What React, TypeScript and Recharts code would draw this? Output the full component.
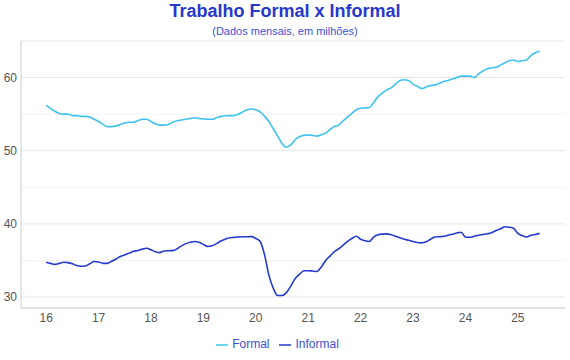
import React from "react";
import {
  LineChart,
  Line,
  XAxis,
  YAxis,
  CartesianGrid,
  ReferenceLine,
  Legend,
} from "recharts";

// monthly, Jan 2016 .. Jun 2025 (millions)
const formal = [
  56.2, 55.8, 55.4, 55.1, 55.0, 55.0, 54.8, 54.8, 54.7, 54.7, 54.6, 54.3,
  54.0, 53.6, 53.3, 53.3, 53.4, 53.6, 53.8, 53.9, 53.9, 54.1, 54.3, 54.3,
  54.0, 53.7, 53.5, 53.5, 53.6, 53.9, 54.1, 54.2, 54.3, 54.4, 54.5, 54.4,
  54.35, 54.3, 54.3, 54.5, 54.7, 54.75, 54.8, 54.8, 55.0, 55.3, 55.6, 55.7,
  55.6, 55.3, 54.7, 54.0, 53.0, 52.0, 51.0, 50.5, 50.8, 51.5, 51.9, 52.1,
  52.15, 52.1, 52.0, 52.2, 52.4, 52.9, 53.3, 53.5, 54.1, 54.6, 55.1, 55.6,
  55.8, 55.85, 55.9, 56.6, 57.4, 57.9, 58.3, 58.6, 59.1, 59.6, 59.7, 59.6,
  59.1, 58.8, 58.5, 58.7, 58.9, 59.0, 59.2, 59.45, 59.6, 59.8, 60.0, 60.2,
  60.2, 60.2, 60.0, 60.5, 60.9, 61.2, 61.35, 61.4, 61.7, 62.0, 62.3, 62.4,
  62.2, 62.3, 62.4, 63.0, 63.4, 63.6,
];

const informal = [
  34.75, 34.6, 34.47, 34.6, 34.75, 34.7, 34.55, 34.3, 34.2, 34.25, 34.55, 34.85,
  34.8, 34.6, 34.6, 34.9, 35.2, 35.55, 35.75, 36.0, 36.26, 36.35, 36.55, 36.67,
  36.45, 36.2, 36.07, 36.3, 36.33, 36.35, 36.6, 37.0, 37.3, 37.5, 37.6, 37.5,
  37.2, 36.9, 37.0, 37.3, 37.65, 37.9, 38.1, 38.15, 38.2, 38.23, 38.25, 38.26,
  38.0, 37.6, 35.8, 33.0, 31.2, 30.2, 30.2, 30.6, 31.5, 32.5, 33.1, 33.6,
  33.6, 33.55, 33.5, 34.1, 35.0, 35.6, 36.2, 36.6, 37.1, 37.6, 38.0, 38.3,
  37.9, 37.7, 37.6, 38.2, 38.5, 38.6, 38.63, 38.5, 38.3, 38.1, 37.9, 37.76,
  37.6, 37.45, 37.4, 37.55, 37.9, 38.2, 38.25, 38.3, 38.45, 38.58, 38.75, 38.86,
  38.2, 38.17, 38.3, 38.45, 38.55, 38.65, 38.8, 39.1, 39.3, 39.6, 39.55, 39.4,
  38.7, 38.4, 38.2, 38.45, 38.55, 38.7,
];

const yearTicks = [16, 17, 18, 19, 20, 21, 22, 23, 24, 25];
const yTicks = [30, 40, 50, 60];
const minorLines = [35, 45, 55, 65];

const data = formal.map((v, i) => ({
  t: 16 + i / 12,
  formal: v,
  informal: informal[i],
}));

const FONT = "'Liberation Sans', Arial, sans-serif";
const BLUE = "#2639cc";
const CYAN = "#3ec3ee";

export default function App() {
  return (
    <div
      style={{
        position: "absolute",
        left: 0,
        top: 0,
        width: 570,
        height: 360,
        background: "#fff",
        fontFamily: FONT,
      }}
    >
      <div
        style={{
          position: "absolute",
          top: 0,
          width: 570,
          textAlign: "center",
          color: BLUE,
          fontWeight: "bold",
          fontSize: 18,
          lineHeight: "22px",
        }}
      >
        Trabalho Formal x Informal
      </div>
      <div
        style={{
          position: "absolute",
          top: 24,
          width: 570,
          textAlign: "center",
          color: "#3b4fd4",
          fontSize: 11,
          lineHeight: "14px",
        }}
      >
        (Dados mensais, em milhões)
      </div>
      <LineChart
        width={570}
        height={360}
        data={data}
        margin={{ top: 41, right: 5, bottom: 0, left: 0 }}
        style={{ position: "absolute", left: 0, top: 0 }}
      >
        <CartesianGrid vertical={false} stroke="#e6e6e6" />
        {minorLines.map((v) => (
          <ReferenceLine key={v} y={v} stroke="#f3f3f3" ifOverflow="extendDomain" />
        ))}
        <XAxis
          dataKey="t"
          type="number"
          domain={[15.52, 25.9]}
          ticks={yearTicks}
          allowDataOverflow
          height={22}
          tickLine={false}
          tickSize={0}
          tickMargin={5}
          stroke="#cccccc"
          tick={{ fill: "#555", fontSize: 12, fontFamily: FONT }}
        />
        <YAxis
          domain={[28.5, 65]}
          ticks={yTicks}
          allowDataOverflow
          width={21}
          tickLine={false}
          tickSize={0}
          tickMargin={4}
          stroke="#cccccc"
          tick={{ fill: "#555", fontSize: 12, fontFamily: FONT }}
        />
        <Line
          type="monotone"
          dataKey="formal"
          name="Formal"
          stroke={CYAN}
          strokeWidth={1.6}
          dot={false}
          isAnimationActive={false}
        />
        <Line
          type="monotone"
          dataKey="informal"
          name="Informal"
          stroke={BLUE}
          strokeWidth={1.6}
          dot={false}
          isAnimationActive={false}
        />
        <Legend
          verticalAlign="bottom"
          height={30}
          iconType="plainline"
          iconSize={12}
          wrapperStyle={{ fontSize: 12, fontFamily: FONT, lineHeight: "28px" }}
          formatter={(value) => <span style={{ color: "#3b4fd4" }}>{value}</span>}
        />
      </LineChart>
    </div>
  );
}
